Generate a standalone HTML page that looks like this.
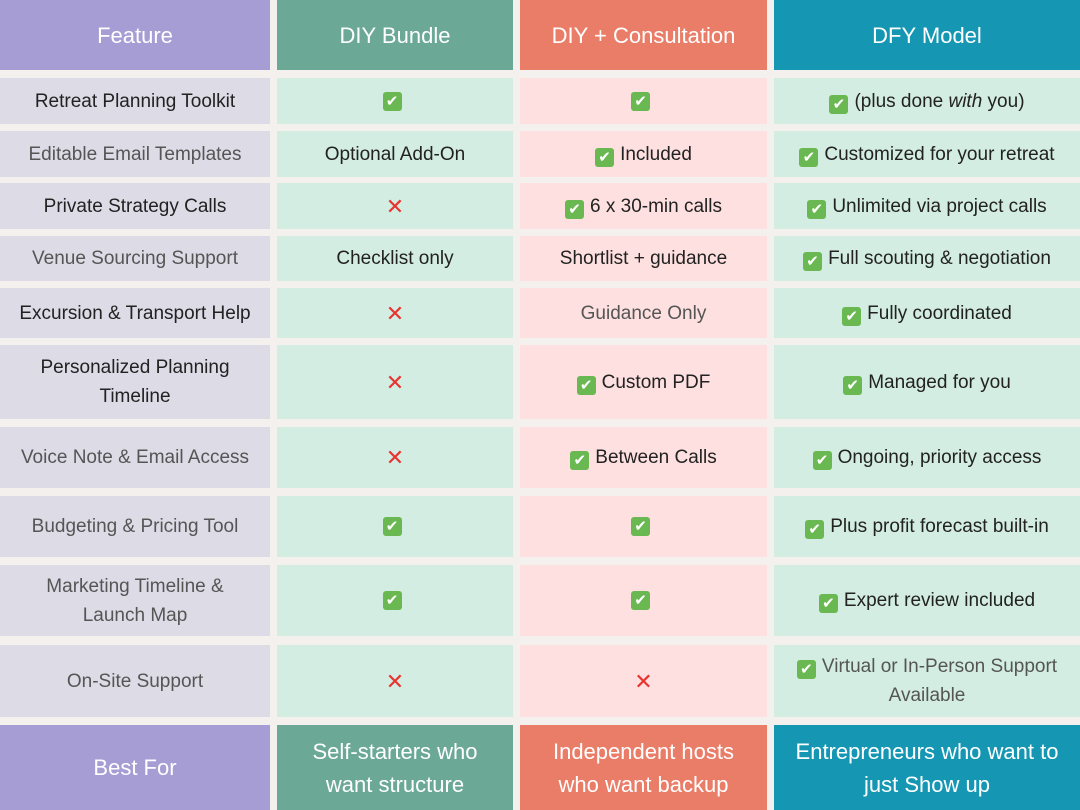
<!DOCTYPE html>
<html><head><meta charset="utf-8"><style>
body{margin:0;width:1080px;height:810px;background:#f3f0ed;position:relative;overflow:hidden;font-family:"Liberation Sans","DejaVu Sans",sans-serif}
.r{position:absolute;left:0;width:1080px}
.c{position:absolute;top:0;bottom:0;display:flex;align-items:center;justify-content:center;text-align:center;font-size:19px;color:#222;line-height:29px}
.a{left:0;width:270px;background:#dcdbe6}
.b{left:277px;width:236px;background:#d3ede2}
.d{left:520px;width:247px;background:#fde0df}
.e{left:774px;width:306px;background:#d3ede2}
.h .c{color:#fff;font-size:22px}
.h .a{background:#a59dd3}.h .b{background:#6ba895}.h .d{background:#ea7d68}.h .e{background:#1597b4}
.k{display:inline-block;width:19px;height:19px;background:#6ab852;border-radius:3px;color:#fff;font-size:15px;line-height:19px;font-weight:bold;margin-right:6px;vertical-align:-2px;text-align:center}
.x{color:#e8332f;font-size:22px}
.g{color:#555}
</style></head><body>
<div class="r h" style="top:0;height:70px"><div class="c a">Feature</div><div class="c b">DIY Bundle</div><div class="c d">DIY + Consultation</div><div class="c e">DFY Model</div></div>
<div class="r" style="top:78px;height:46px"><div class="c a">Retreat Planning Toolkit</div><div class="c b"><span class="k">✔</span></div><div class="c d"><span class="k">✔</span></div><div class="c e"><span><span class="k">✔</span>(plus done <i>with</i> you)</span></div></div>
<div class="r" style="top:131px;height:46px"><div class="c a g">Editable Email Templates</div><div class="c b">Optional Add-On</div><div class="c d"><span><span class="k">✔</span>Included</span></div><div class="c e"><span><span class="k">✔</span>Customized for your retreat</span></div></div>
<div class="r" style="top:183px;height:46px"><div class="c a">Private Strategy Calls</div><div class="c b"><span class="x">✕</span></div><div class="c d"><span><span class="k">✔</span>6 x 30-min calls</span></div><div class="c e"><span><span class="k">✔</span>Unlimited via project calls</span></div></div>
<div class="r" style="top:236px;height:45px"><div class="c a g">Venue Sourcing Support</div><div class="c b">Checklist only</div><div class="c d">Shortlist + guidance</div><div class="c e"><span><span class="k">✔</span>Full scouting &amp; negotiation</span></div></div>
<div class="r" style="top:288px;height:50px"><div class="c a">Excursion &amp; Transport Help</div><div class="c b"><span class="x">✕</span></div><div class="c d g">Guidance Only</div><div class="c e"><span><span class="k">✔</span>Fully coordinated</span></div></div>
<div class="r" style="top:345px;height:74px"><div class="c a">Personalized Planning<br>Timeline</div><div class="c b"><span class="x">✕</span></div><div class="c d"><span><span class="k">✔</span>Custom PDF</span></div><div class="c e"><span><span class="k">✔</span>Managed for you</span></div></div>
<div class="r" style="top:427px;height:61px"><div class="c a g">Voice Note &amp; Email Access</div><div class="c b"><span class="x">✕</span></div><div class="c d"><span><span class="k">✔</span>Between Calls</span></div><div class="c e"><span><span class="k">✔</span>Ongoing, priority access</span></div></div>
<div class="r" style="top:496px;height:61px"><div class="c a g">Budgeting &amp; Pricing Tool</div><div class="c b"><span class="k">✔</span></div><div class="c d"><span class="k">✔</span></div><div class="c e"><span><span class="k">✔</span>Plus profit forecast built-in</span></div></div>
<div class="r" style="top:565px;height:71px"><div class="c a g">Marketing Timeline &amp;<br>Launch Map</div><div class="c b"><span class="k">✔</span></div><div class="c d"><span class="k">✔</span></div><div class="c e"><span><span class="k">✔</span>Expert review included</span></div></div>
<div class="r" style="top:645px;height:72px"><div class="c a g">On-Site Support</div><div class="c b"><span class="x">✕</span></div><div class="c d"><span class="x">✕</span></div><div class="c e g"><span><span class="k">✔</span>Virtual or In-Person Support<br>Available</span></div></div>
<div class="r h" style="top:725px;height:85px"><div class="c a">Best For</div><div class="c b" style="line-height:33px">Self-starters who<br>want structure</div><div class="c d" style="line-height:33px">Independent hosts<br>who want backup</div><div class="c e" style="line-height:33px">Entrepreneurs who want to<br>just Show up</div></div>
</body></html>
